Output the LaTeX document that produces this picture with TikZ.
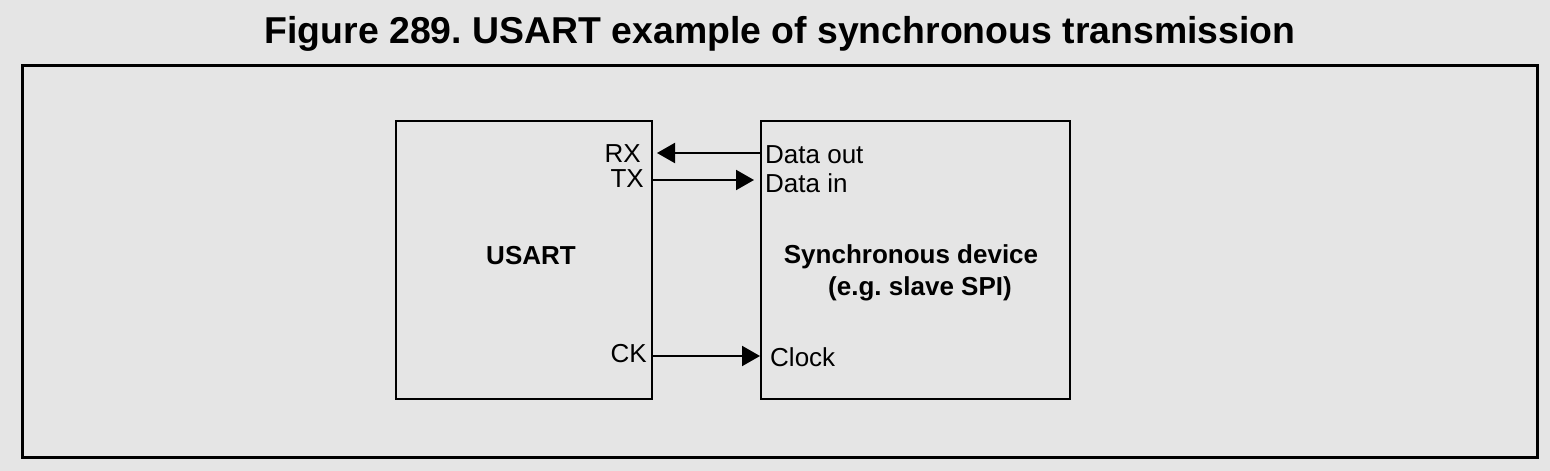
\documentclass[tikz,border=0pt]{standalone}
\usepackage{fontspec}
\setmainfont{Liberation Sans}
\frenchspacing
\usetikzlibrary{arrows.meta}
\definecolor{bg}{HTML}{E5E5E5}
\begin{document}
\begin{tikzpicture}[x=1pt,y=-1pt,
  blk/.style={draw=black,line width=2pt,fill=bg,inner sep=0pt,anchor=north west},
  lbl/.style={font=\fontsize{26}{30}\selectfont,inner sep=0pt},
  conn/.style={line width=2pt,-{Triangle[length=18pt,width=20pt]}}]
\fill[bg] (0,0) rectangle (1550,471);
\useasboundingbox (0,0) rectangle (1550,471);
\node[font=\bfseries\fontsize{37.4}{40}\selectfont,inner sep=0pt,anchor=base] (title) at (780,43) {Figure 289. USART example of synchronous transmission};
\node[draw=black,line width=2.5pt,inner sep=0pt,minimum width=1515pt,minimum height=392pt,anchor=north west] (frame) at (21,64) {};
\node[blk,minimum width=256pt,minimum height=278pt] (usart) at (395,120) {};
\node[blk,minimum width=309pt,minimum height=278pt] (dev) at (760,120) {};
\node[font=\bfseries\fontsize{26}{30}\selectfont,inner sep=0pt,anchor=base] (ulbl) at (531,264) {USART};
\node[font=\bfseries\fontsize{26}{32}\selectfont,inner sep=0pt,align=center,anchor=base] (dlbl) at (911,295) {Synchronous device\\\hspace*{18pt}(e.g. slave SPI)};
\coordinate (rxp) at (657,153);
\coordinate (txp) at (651,180);
\coordinate (ckp) at (651,356);
\coordinate (dop) at (760,153);
\coordinate (dip) at (754,180);
\coordinate (clp) at (760,356);
\node[lbl,anchor=base east] (rx) at (641,162) {RX};
\node[lbl,anchor=base east] (tx) at (644,187) {TX};
\node[lbl,anchor=base east] (ck) at (647,362) {CK};
\node[lbl,anchor=base west] (dout) at (765,163) {Data out};
\node[lbl,anchor=base west] (din) at (765,192) {Data in};
\node[lbl,anchor=base west] (clk) at (770,366) {Clock};
\draw[conn] (dop) -- (rxp);
\draw[conn] (txp) -- (dip);
\draw[conn] (ckp) -- (clp);
\end{tikzpicture}
\end{document}
